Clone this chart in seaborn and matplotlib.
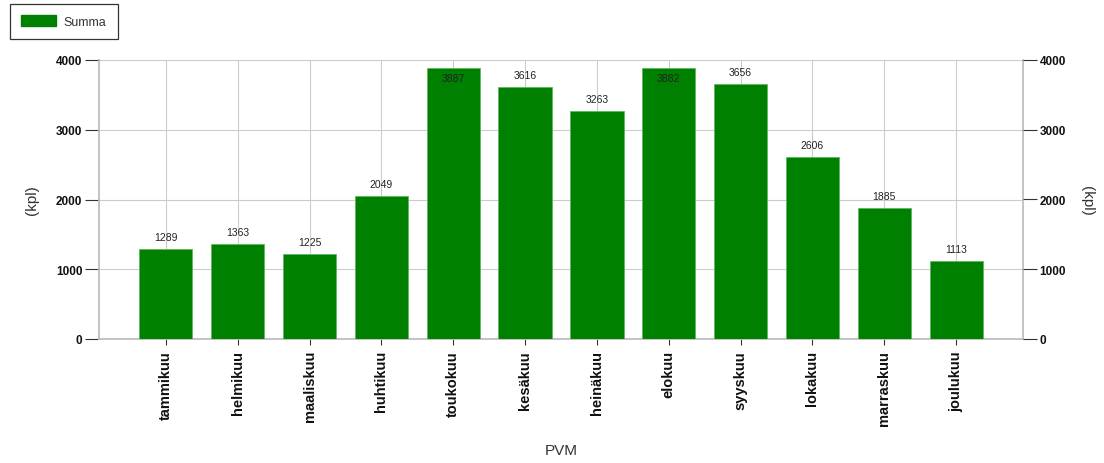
import matplotlib
matplotlib.use("Agg")
import matplotlib.pyplot as plt
import seaborn as sns
import pandas as pd
from matplotlib.patches import Patch

months = ["tammikuu", "helmikuu", "maaliskuu", "huhtikuu", "toukokuu", "kesäkuu",
          "heinäkuu", "elokuu", "syyskuu", "lokakuu", "marraskuu", "joulukuu"]
summa = [1289, 1363, 1225, 2049, 3887, 3616, 3263, 3882, 3656, 2606, 1885, 1113]
yticks = [0, 1000, 2000, 3000, 4000]

sns.set_theme(style="white")
plt.rcParams['font.family'] = ['Liberation Sans', 'DejaVu Sans']

df = pd.DataFrame({"PVM": months, "Summa": summa})

fig = plt.figure(figsize=(11.04, 4.64), dpi=100)
ax = fig.add_axes([99/1104, 1 - 340/464, (1023-99)/1104, (340-61)/464])

sns.barplot(data=df, x="PVM", y="Summa", color="#008000", width=0.74,
            saturation=1, ax=ax, zorder=3, edgecolor="#5cb85c", linewidth=0.6)

ax.set_xlim(-0.93, 11.93)
ax.set_ylim(0, 4000)
ax.set_yticks(yticks)
ax.set_yticklabels([str(t) for t in yticks], fontsize=8.5, fontweight="bold", color="#111111")
ax.grid(True, axis="both", color="#cccccc", linewidth=0.8, zorder=0)
ax.set_axisbelow(True)

for s in ["left", "right"]:
    ax.spines[s].set_visible(True)
    ax.spines[s].set_color("#bbbbbb")
ax.spines["bottom"].set_color("#bbbbbb")
ax.spines["top"].set_visible(False)

ax.tick_params(axis="y", which="both", left=True, length=10, width=0.8, color="#333333", pad=2)
ax.tick_params(axis="x", bottom=True, length=4, width=0.8, color="#333333", pad=4)
ax.set_xticks(range(len(months)))
ax.set_xticklabels(months, rotation=90, fontsize=10.5, fontweight="bold", color="#111111")

ax.set_xlabel("PVM", fontsize=11, labelpad=13, color="#333333")
ax.set_ylabel("(kpl)", fontsize=11, labelpad=12, color="#333333")

ax2 = ax.twinx()
ax2.set_ylim(0, 4000)
ax2.set_yticks(yticks)
ax2.set_yticklabels([str(t) for t in yticks], fontsize=8.5, fontweight="bold", color="#111111")
ax2.tick_params(axis="y", right=True, length=10, width=0.8, color="#333333", pad=2)
ax2.set_ylabel("(kpl)", fontsize=11, labelpad=10, rotation=270, color="#333333", va="bottom")
for s in ax2.spines.values():
    s.set_visible(False)

for i, v in enumerate(summa):
    if v > 3800:
        ax.text(i, v - 70, str(v), ha="center", va="top", fontsize=7.5, color="#222222", zorder=5)
    else:
        ax.text(i, v + 100, str(v), ha="center", va="bottom", fontsize=7.5, color="#222222", zorder=5)

leg = fig.legend(handles=[Patch(facecolor="#008000", edgecolor="#008000", label="Summa")],
                 loc="upper left", bbox_to_anchor=(10/1104, 1 - 5/464), frameon=True,
                 fancybox=False, fontsize=9, handlelength=2.8, handleheight=0.9,
                 borderpad=0.9, borderaxespad=0, handletextpad=0.6)
leg.get_frame().set_edgecolor("black")
leg.get_frame().set_linewidth(0.9)
leg._legend_box.align = "left"
for t in leg.get_texts():
    t.set_color("#333333")
fig.canvas.draw()
bb = leg.get_window_extent()
# widen frame to match reference width
frame = leg.get_frame()
frame.set_width(106)
fig.savefig("out.png", dpi=100)
